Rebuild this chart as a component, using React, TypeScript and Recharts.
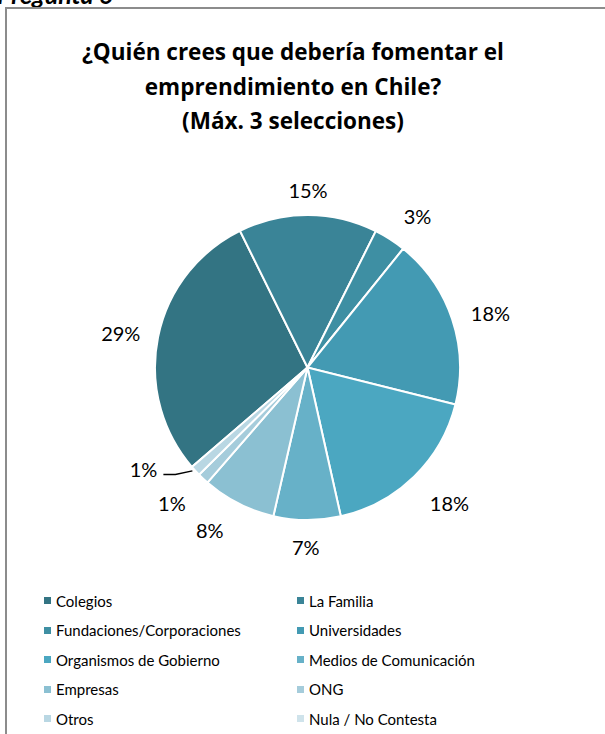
import React from 'react';
import { PieChart, Pie, Cell, Legend } from 'recharts';

const CATEGORIES = [
  'Colegios',
  'La Familia',
  'Fundaciones/Corporaciones',
  'Universidades',
  'Organismos de Gobierno',
  'Medios de Comunicación',
  'Empresas',
  'ONG',
  'Otros',
  'Nula / No Contesta',
];

const PERCENTS = [29, 14.7, 3.4, 18.1, 17.6, 7.1, 7.8, 1.2, 1.1, 0];

const COLORS = [
  '#337483', '#3a8497', '#3e8fa3', '#439ab3', '#4ba7c1',
  '#67b1c8', '#8bc0d2', '#a5ccdb', '#b9d7e3', '#cfe3eb',
];

const TITLE_LINES = [
  '¿Quién crees que debería fomentar el',
  'emprendimiento en Chile?',
  '(Máx. 3 selecciones)',
];

// label placement like Excel's "best fit": distance from centre, angle nudge (deg)
const LABEL_R = [190, 177.5, 187, 191, 196, 180, 190, 191.5, 0, 0];
const LABEL_DA = [-0.9, 0, 3.3, 1.9, -2.1, 0.4, 4, 1.9, 0, 0];

const data = CATEGORIES.map((name, i) => ({ name, value: PERCENTS[i] }));

const FONT = 'Lato, "Open Sans", sans-serif';
const RAD = Math.PI / 180;

const renderLabel = (props: any) => {
  const { cx, cy, midAngle, outerRadius, percent, index } = props;
  if (percent < 0.005) return null;
  const text = `${Math.round(percent * 100)}%`;

  // Otros: pushed out to the left with a leader line
  if (index === 8) {
    const ex = cx + outerRadius * Math.cos(-midAngle * RAD) - 3;
    const ey = cy + outerRadius * Math.sin(-midAngle * RAD);
    return (
      <g>
        <polyline
          points={`${ex},${ey} ${ex - 17},${ey + 3.5} ${ex - 29},${ey + 3.5}`}
          fill="none"
          stroke="#000"
          strokeWidth={1.5}
        />
        <text x={ex - 35} y={ey - 1.5} textAnchor="end" dominantBaseline="central"
          fill="#000" fontSize={20} fontFamily={FONT}>
          {text}
        </text>
      </g>
    );
  }

  const a = (midAngle - LABEL_DA[index]) * RAD;
  const x = cx + LABEL_R[index] * Math.cos(-a);
  const y = cy + LABEL_R[index] * Math.sin(-a);
  return (
    <text x={x} y={y} textAnchor="middle" dominantBaseline="central"
      fill="#000" fontSize={20} fontFamily={FONT}>
      {text}
    </text>
  );
};

const renderLegend = () => (
  <div style={{
    display: 'grid',
    gridTemplateColumns: '253px 260px',
    fontFamily: FONT,
    fontSize: 15,
    color: '#000',
  }}>
    {CATEGORIES.map((name, i) => (
      <div key={name} style={{ display: 'flex', alignItems: 'center', height: 29.5 }}>
        <span style={{ width: 7, height: 7, background: COLORS[i], marginRight: 5, display: 'inline-block' }} />
        <span>{name}</span>
      </div>
    ))}
  </div>
);

export default function App() {
  return (
    <div style={{ position: 'absolute', left: 0, top: 0, width: 605, height: 734, overflow: 'hidden', background: '#fff' }}>
      <div style={{
        position: 'absolute', left: -3, top: -21, fontFamily: FONT, fontWeight: 700,
        fontStyle: 'italic', fontSize: 25, color: '#000', whiteSpace: 'nowrap',
      }}>
        Pregunta 6
      </div>
      <div style={{
        position: 'absolute', left: 5, top: 7, width: 640, height: 760,
        border: '2px solid #8c8c8c', boxSizing: 'border-box', background: '#fff',
      }} />
      <div style={{
        position: 'absolute', left: 0, top: 35, width: 586, textAlign: 'center',
        fontFamily: '"Open Sans", sans-serif', fontWeight: 700, fontSize: 22.5,
        lineHeight: '34.5px', color: '#000',
      }}>
        {TITLE_LINES.map((l) => <div key={l}>{l}</div>)}
      </div>
      <div style={{ position: 'absolute', left: 0, top: 0 }}>
        <PieChart width={605} height={734} margin={{ top: 0, right: 0, bottom: 0, left: 0 }}>
          <Pie
            data={data}
            dataKey="value"
            nameKey="name"
            cx={307.5}
            cy={367.5}
            outerRadius={152.5}
            startAngle={-139.3}
            endAngle={-499.3}
            stroke="#fff"
            strokeWidth={2}
            label={renderLabel}
            labelLine={false}
            isAnimationActive={false}
          >
            {data.map((d, i) => <Cell key={d.name} fill={COLORS[i]} />)}
          </Pie>
          <Legend
            content={renderLegend}
            layout="vertical"
            wrapperStyle={{ position: 'absolute', left: 44, top: 586, width: 520 }}
          />
        </PieChart>
      </div>
    </div>
  );
}
